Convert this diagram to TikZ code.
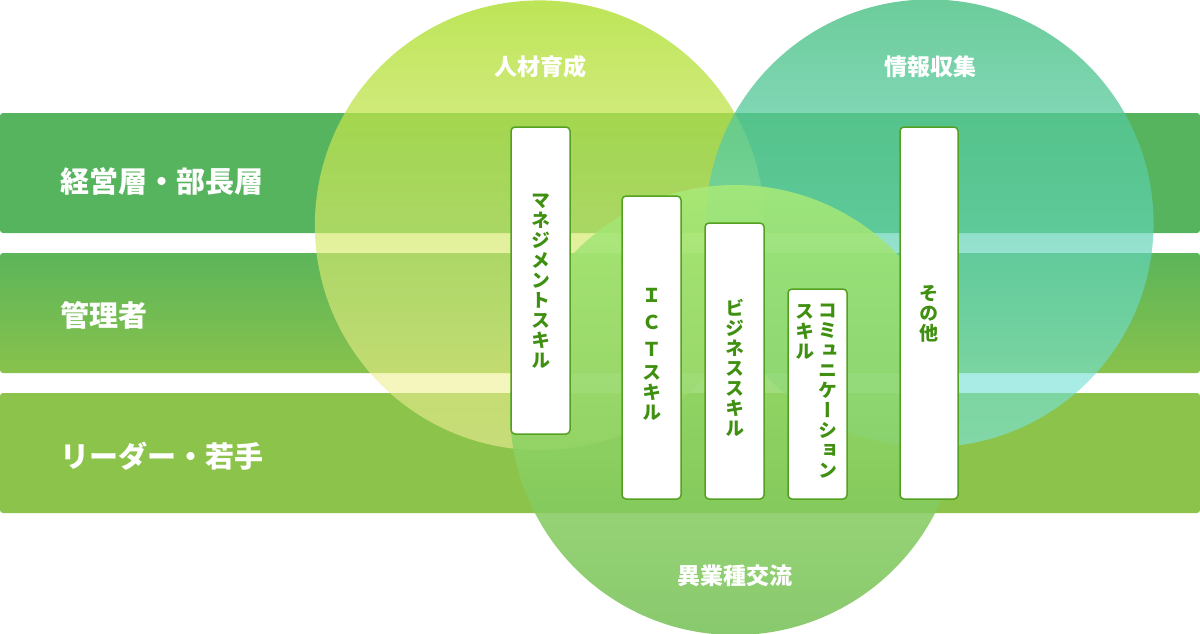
\documentclass[tikz,border=0pt]{standalone}
\usepackage{fontspec}
\newfontfamily\jp{Noto Sans CJK JP}
\newfontfamily\jpv{Noto Sans CJK JP}[RawFeature=+vert]
\usetikzlibrary{fadings}
\definecolor{bandA}{RGB}{87,180,94}
\definecolor{bandBt}{RGB}{92,181,90}
\definecolor{bandBb}{RGB}{136,194,76}
\definecolor{bandC}{RGB}{140,195,75}
\definecolor{cAt}{RGB}{172,222,45}
\definecolor{cAb}{RGB}{248,242,160}
\definecolor{cBt}{RGB}{71,191,129}
\definecolor{cBb}{RGB}{123,230,227}
\definecolor{cCt}{RGB}{168,234,120}
\definecolor{cCb}{RGB}{118,192,85}
\definecolor{boxline}{RGB}{84,160,32}
\definecolor{boxtext}{RGB}{63,144,16}
\tikzfading[name=fadeA, top color=transparent!20, bottom color=transparent!45]
\tikzfading[name=fadeB, top color=transparent!20, bottom color=transparent!40]
\tikzset{
  band/.style={rounded corners=3pt, minimum width=1200pt, minimum height=120pt, inner sep=0pt},
  bandlabel/.style={anchor=west, text=white, inner sep=0pt, font=\jp\bfseries\fontsize{29}{34}\selectfont},
  circlabel/.style={text=white, inner sep=0pt, font=\jp\bfseries\fontsize{23}{28}\selectfont},
  skillbox/.style={draw=boxline, line width=1.5pt, fill=white, rounded corners=4pt, minimum width=59pt, inner sep=0pt},
  skilltext/.style={text=boxtext, inner sep=0pt, align=center, font=\jpv\bfseries\fontsize{19}{20}\selectfont},
}
\begin{document}
\begin{tikzpicture}[x=1pt, y=-1pt]
\useasboundingbox (0,0) rectangle (1200,633);
% bands
\node[band, fill=bandA] (b1) at (600,173) {};
\node[band, top color=bandBt, bottom color=bandBb] (b2) at (600,313) {};
\node[band, fill=bandC] (b3) at (600,453) {};
% circles
\shade[top color=cAt, bottom color=cAb, path fading=fadeA, fit fading=true] (540,225) circle (225);
\shade[top color=cBt, bottom color=cBb, path fading=fadeB, fit fading=true] (930,223) circle (224);
\shade[top color=cCt, bottom color=cCb, opacity=0.86] (735,410) circle (225);
% band labels
\node[bandlabel] (l1) at (60,181) {経営層・部長層};
\node[bandlabel] (l2) at (60,315) {管理者};
\node[bandlabel] (l3) at (60,456) {リーダー・若手};
% circle labels
\node[circlabel] (c1) at (540,67) {人材育成};
\node[circlabel] (c2) at (930,67) {情報収集};
\node[circlabel] (c3) at (735,576) {異業種交流};
% skill boxes
\node[skillbox, minimum height=307pt] (s1) at (540.5,280.5) {};
\node[skillbox, minimum height=303pt] (s2) at (651.5,347.5) {};
\node[skillbox, minimum height=276pt] (s3) at (734.5,361) {};
\node[skillbox, minimum height=210pt] (s4) at (817.5,394) {};
\node[skillbox, minimum height=372pt, minimum width=58pt] (s5) at (929,313) {};
% skill texts
\node[skilltext] (t1) at (540.5,281) {マ\\ネ\\ジ\\メ\\ン\\ト\\ス\\キ\\ル};
\node[skilltext] (t2) at (651.5,354) {Ｉ\\[7pt]Ｃ\\[7pt]Ｔ\\[3pt]ス\\キ\\ル};
\node[skilltext] (t3) at (734.5,368) {ビ\\ジ\\ネ\\ス\\ス\\キ\\ル};
\node[skilltext, anchor=north] (t4a) at (828,304) {コ\\ミ\\ュ\\ニ\\ケ\\ー\\シ\\ョ\\ン};
\node[skilltext, anchor=north] (t4b) at (805,304) {ス\\キ\\ル};
\node[skilltext] (t5) at (929,314) {そ\\の\\他};
\end{tikzpicture}
\end{document}
